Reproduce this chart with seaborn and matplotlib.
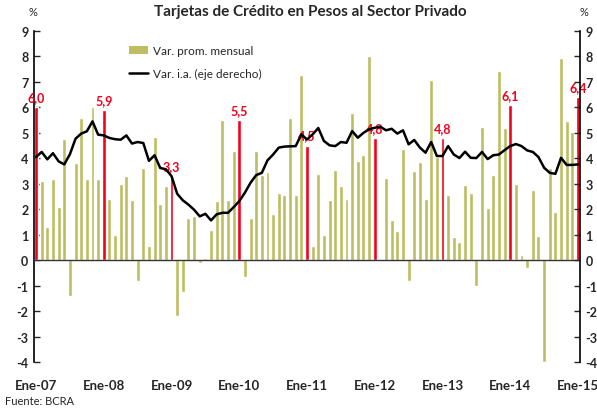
import numpy as np
import pandas as pd
import matplotlib
matplotlib.use("Agg")
import matplotlib.pyplot as plt
import seaborn as sns
from matplotlib.patches import Patch
from matplotlib.lines import Line2D

# Var. promedio mensual (%), Dic-06 a Dic-14
var_mensual = [
    6.0,
    3.1, 1.3, 3.2, 2.1, 4.75, -1.4, 3.8, 5.6, 3.2, 6.0, 3.2, 5.9,
    2.4, 1.0, 3.0, 3.3, 2.35, -0.8, 3.6, 0.55, 4.85, 2.2, 2.9, 3.3,
    -2.2, -1.25, 1.65, 1.72, -0.12, 0.1, 1.18, 2.31, 5.49, 2.35, 4.27, 5.5,
    -0.68, 1.67, 4.3, 3.35, 3.48, 1.83, 2.65, 2.55, 5.57, 2.55, 7.28, 4.5,
    0.54, 3.4, 1.0, 2.35, 3.53, 2.9, 2.39, 5.79, 3.88, 4.12, 8.0, 4.8,
    0.0, 3.21, 1.56, 1.13, 4.35, -0.8, 3.49, 3.84, 2.39, 7.06, 4.04, 4.8,
    2.54, 0.89, 0.73, 2.94, 2.62, -1.02, 5.22, 2.03, 3.34, 7.42, 5.19, 6.1,
    2.98, 0.22, -0.3, 2.74, 0.93, -4.0, 3.6, 1.91, 7.93, 5.45, 5.02, 6.4,
]

# Var. i.a. (%), eje derecho
var_ia = [
    4.05,
    4.25, 3.96, 4.2, 3.88, 3.76, 4.16, 4.77, 4.97, 5.06, 5.45, 4.93, 4.9,
    4.8, 4.75, 4.73, 4.9, 4.58, 4.64, 4.6, 3.9, 4.12, 3.62, 3.57, 3.3,
    2.61, 2.35, 2.18, 1.98, 1.72, 1.82, 1.56, 1.8, 1.86, 1.86, 2.08, 2.32,
    2.65, 3.04, 3.34, 3.43, 3.92, 4.15, 4.42, 4.46, 4.47, 4.48, 4.94, 4.74,
    4.94, 5.19, 4.68, 4.51, 4.48, 4.64, 4.61, 5.07, 4.81, 5.0, 5.14, 5.2,
    5.24, 5.1, 5.16, 4.97, 5.1, 4.55, 4.72, 4.42, 4.22, 4.64, 4.09, 4.09,
    4.48, 4.15, 4.01, 4.26, 4.02, 4.01, 4.25, 3.97, 4.12, 4.15, 4.32, 4.48,
    4.56, 4.48, 4.31, 4.25, 4.05, 3.63, 3.43, 3.39, 4.02, 3.74, 3.74, 3.76,
]

etiquetas_x = ["Ene-07", "Ene-08", "Ene-09", "Ene-10", "Ene-11",
               "Ene-12", "Ene-13", "Ene-14", "Ene-15"]

OLIVA = "#BDBD62"
ROJO = "#F2001C"

sns.set_style("white")
plt.rcParams["font.family"] = ["Lato", "DejaVu Sans"]

df = pd.DataFrame({"idx": np.arange(len(var_mensual)), "valor": var_mensual})
df["tipo"] = np.where(df["idx"] % 12 == 0, "dic", "mes")

fig = plt.figure(figsize=(5.97, 4.10), dpi=100)
ax = fig.add_axes([34 / 597, 1 - 363 / 410, (580 - 34) / 597, (363 - 32) / 410])

sns.barplot(data=df, x="idx", y="valor", hue="tipo",
            palette={"dic": ROJO, "mes": OLIVA}, dodge=False, width=0.7,
            saturation=1, legend=False, ax=ax)

ax.set_ylim(-4, 9)
ax.set_xlim(-0.36, len(var_mensual) - 0.64)
ax.axhline(0, color="#333333", linewidth=1.0, zorder=3)
ax.set_yticks(range(-4, 10))
ax.set_yticklabels([str(v) for v in range(-4, 10)], fontweight="bold", fontsize=9)
dic_idx = df.loc[df["tipo"] == "dic", "idx"].tolist()
ax.set_xticks(dic_idx)
ax.set_xticklabels(etiquetas_x, fontweight="bold", fontsize=9.5)
ax.tick_params(axis="x", length=0, pad=12)
ax.tick_params(axis="y", direction="in", length=4, width=1, pad=4, left=True)
ax.set_xlabel("")
ax.set_ylabel("")
for s in ["top", "bottom", "right"]:
    ax.spines[s].set_visible(False)
ax.spines["left"].set_color("black")
ax.spines["left"].set_linewidth(1.2)

# etiquetas de diciembre
for i in dic_idx:
    v = var_mensual[i]
    ax.annotate(f"{v:.1f}".replace(".", ","), (i, v), xytext=(0, 3),
                textcoords="offset points", ha="center", va="bottom",
                color=ROJO, fontweight="bold", fontsize=9, annotation_clip=False)

ax2 = ax.twinx()
sns.lineplot(x=np.arange(len(var_ia)), y=var_ia, color="black", linewidth=1.8, ax=ax2)
ax2.set_ylim(-4, 9)
ax2.set_yticks(range(-4, 10))
ax2.set_yticklabels([str(v) for v in range(-4, 10)], fontweight="bold", fontsize=9)
ax2.tick_params(axis="y", direction="in", length=4, width=1, pad=4, right=True)
for s in ["top", "bottom", "left"]:
    ax2.spines[s].set_visible(False)
ax2.spines["right"].set_color("black")
ax2.spines["right"].set_linewidth(1.2)

handles = [Patch(facecolor=OLIVA, edgecolor="none", label="Var. prom. mensual"),
           Line2D([0], [0], color="black", linewidth=1.8, label="Var. i.a. (eje derecho)")]
ax2.legend(handles=handles, loc="upper left", bbox_to_anchor=(0.155, 0.99),
           frameon=False, fontsize=8.5, handlelength=1.6, labelspacing=1.0,
           handletextpad=0.4)

fig.text(0.52, 0.97, "Tarjetas de Crédito en Pesos al Sector Privado",
         ha="center", va="center", fontweight="bold", fontsize=11)
fig.text(33 / 597, 1 - 13 / 410, "%", ha="center", va="center", fontsize=8)
fig.text(584 / 597, 1 - 13 / 410, "%", ha="center", va="center", fontsize=8)
fig.text(5 / 597, 1 - 402 / 410, "Fuente: BCRA", ha="left", va="center", fontsize=8)

fig.savefig("out.png", dpi=100)
